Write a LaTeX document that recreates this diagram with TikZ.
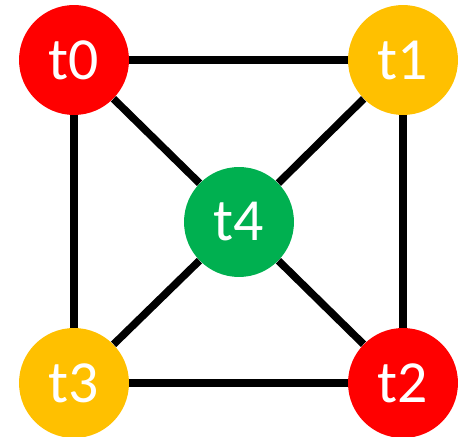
\documentclass[tikz,border=0pt]{standalone}
\usepackage{fontspec}
\setmainfont{Carlito}
\usepackage{tikz}
\usetikzlibrary{positioning}
\definecolor{hotred}{HTML}{FF0000}
\definecolor{amber}{HTML}{FFC000}
\definecolor{grass}{HTML}{00B050}
\newcommand{\taskcircle}[4]{
  \node[circle,fill=#3,minimum size=2.2cm,inner sep=0pt,text=white,font=\fontsize{34}{40}\selectfont] (#1) at #2 {#4};
}

\begin{document}
\begin{tikzpicture}[x=0.02cm,y=0.02cm]
  \useasboundingbox (0,0) rectangle (461,437);
  \taskcircle{t0}{(74,377)}{hotred}{t0}
  \taskcircle{t1}{(403,377)}{amber}{t1}
  \taskcircle{t2}{(403,54)}{hotred}{t2}
  \taskcircle{t3}{(74,54)}{amber}{t3}
  \taskcircle{t4}{(239,215)}{grass}{t4}
  \draw[line width=4.3pt] (t0) -- (t1);
  \draw[line width=4.3pt] (t1) -- (t2);
  \draw[line width=4.3pt] (t2) -- (t3);
  \draw[line width=4.3pt] (t3) -- (t0);
  \draw[line width=4.3pt] (t0) -- (t4);
  \draw[line width=4.3pt] (t1) -- (t4);
  \draw[line width=4.3pt] (t2) -- (t4);
  \draw[line width=4.3pt] (t3) -- (t4);
\end{tikzpicture}
\end{document}
